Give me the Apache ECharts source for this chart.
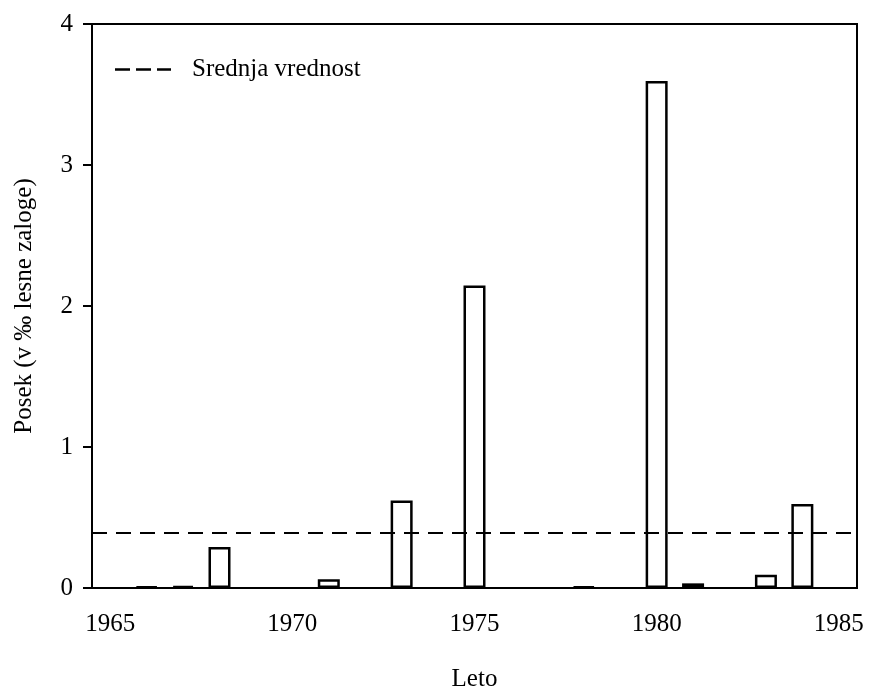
<!DOCTYPE html>
<html>
<head>
<meta charset="utf-8">
<script src="https://cdn.jsdelivr.net/npm/echarts@6/dist/echarts.min.js"></script>
<style>
  html, body { margin: 0; padding: 0; background: #fff; }
  #chart { width: 869px; height: 692px; }
</style>
</head>
<body>
<div id="chart"></div>
<script>
// leta 1965-1985, posek v promilih lesne zaloge (null = brez poseka)
var years = ['1965', '1966', '1967', '1968', '1969', '1970', '1971', '1972', '1973', '1974', '1975',
  '1976', '1977', '1978', '1979', '1980', '1981', '1982', '1983', '1984', '1985']
var posek = [null, 0.01, 0.015, 0.29, null, null, 0.062, null, 0.62, null, 2.145,
  null, null, 0.01, null, 3.595, 0.033, null, 0.094, 0.596, null]
var srednja = 0.39
var yTicks = [0, 1, 2, 3, 4]

var font = 'Liberation Serif, Times New Roman, serif'
var chart = echarts.init(document.getElementById('chart'))
chart.setOption({
  animation: false,
  backgroundColor: '#fff',
  grid: {
    left: 92, right: 12, top: 24, bottom: 104,
    outerBoundsMode: 'none',
    containLabel: false,
    show: true, borderColor: '#000', borderWidth: 2
  },
  legend: {
    left: 115, top: 57,
    padding: 0,
    icon: 'path://M0,0H15V2.5H0Z M21,0H36V2.5H21Z M42,0H56V2.5H42Z',
    itemWidth: 56, itemHeight: 2.5,
    textStyle: { fontFamily: font, fontSize: 25, color: '#000', padding: [0, 0, 0, 16] },
    data: ['Srednja vrednost']
  },
  xAxis: {
    type: 'category',
    data: years,
    boundaryGap: true,
    name: 'Leto',
    nameLocation: 'middle',
    nameGap: 79,
    nameTextStyle: { fontFamily: font, fontSize: 25, color: '#000' },
    axisLine: { lineStyle: { color: '#000', width: 2 } },
    axisTick: { interval: 4, alignWithLabel: true, length: 7, lineStyle: { color: '#000', width: 2 } },
    axisLabel: { interval: 4, margin: 24, fontFamily: font, fontSize: 25, color: '#000' },
    splitLine: { show: false }
  },
  yAxis: {
    type: 'value',
    min: yTicks[0],
    max: yTicks[yTicks.length - 1],
    interval: 1,
    name: 'Posek (v ‰ lesne zaloge)',
    nameLocation: 'middle',
    nameGap: 55,
    nameTextStyle: { fontFamily: font, fontSize: 25, color: '#000' },
    axisLine: { show: true, lineStyle: { color: '#000', width: 2 } },
    axisTick: { show: true, length: 9, lineStyle: { color: '#000', width: 2 } },
    axisLabel: { margin: 19, fontFamily: font, fontSize: 25, color: '#000' },
    splitLine: { show: false }
  },
  series: [
    {
      name: 'Posek',
      type: 'bar',
      data: posek,
      barWidth: 22,
      itemStyle: { color: '#fff', borderColor: '#000', borderWidth: 2.5 }
    },
    {
      name: 'Srednja vrednost',
      type: 'line',
      data: [],
      symbol: 'none',
      itemStyle: { color: '#000' },
      lineStyle: { color: '#000', width: 2, type: [15, 9] },
      markLine: {
        silent: true,
        symbol: 'none',
        label: { show: false },
        lineStyle: { color: '#000', width: 2, type: [15, 9] },
        data: [{ yAxis: srednja }]
      }
    }
  ]
})
</script>
</body>
</html>
